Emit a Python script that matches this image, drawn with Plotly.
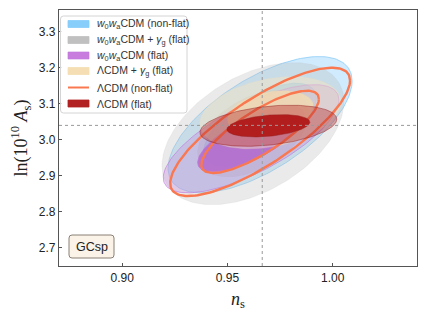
import numpy as np
import plotly.graph_objects as go

# Fisher-like contours: centre, x/y half-extent of the
# 95% (outer) and 68% (inner) contours, and the ns-lnAs correlation
models   = ["w0wa_nonflat", "w0wa_g", "w0wa_flat", "lcdm_g", "lcdm_nonflat", "lcdm_flat"]
labels   = ["<i>w</i><sub>0</sub><i>w</i><sub>a</sub>CDM (non-flat)",
            "<i>w</i><sub>0</sub><i>w</i><sub>a</sub>CDM + <i>γ</i><sub>g</sub> (flat)",
            "<i>w</i><sub>0</sub><i>w</i><sub>a</sub>CDM (flat)",
            "ΛCDM + <i>γ</i><sub>g</sub> (flat)",
            "ΛCDM (non-flat)",
            "ΛCDM (flat)"]
ns_c     = [0.9655, 0.9621, 0.9612, 0.9704, 0.9655, 0.9694]
as_c     = [3.042, 3.017, 3.003, 3.075, 3.022, 3.039]
dx_out   = [0.0437, 0.0432, 0.0417, 0.0335, 0.0427, 0.0325]
dy_out   = [0.189, 0.197, 0.150, 0.100, 0.178, 0.057]
dx_in    = [0.0267, 0.0263, 0.0254, 0.0204, 0.0279, 0.0197]
dy_in    = [0.115, 0.120, 0.092, 0.061, 0.114, 0.031]
rho      = [0.64, 0.45, 0.72, 0.30, 0.80, 0.32]

fid_ns   = 0.9665
fid_as   = 3.040
x_ticks  = [0.90, 0.95, 1.00]
y_ticks  = [2.7, 2.8, 2.9, 3.0, 3.1, 3.2, 3.3]

style = {
    "w0wa_nonflat": dict(out="rgba(135,206,250,0.40)", inn="rgba(135,206,250,0.75)", edge="rgba(120,195,245,0.8)", lw=0.8,
                         key="rgb(135,206,250)"),
    "w0wa_g":       dict(out="rgba(185,185,185,0.30)", inn="rgba(180,180,180,0.35)", edge="rgba(180,180,180,0.3)", lw=0.5,
                         key="rgb(192,192,192)"),
    "w0wa_flat":    dict(out="rgba(195,130,220,0.32)", inn="rgba(180,100,205,0.80)", edge="rgba(190,120,220,0.8)", lw=0.8,
                         key="rgb(200,125,222)"),
    "lcdm_g":       dict(out="rgba(248,228,190,0.45)", inn="rgba(242,218,175,0.80)", edge="rgba(245,222,179,0.4)", lw=0.5,
                         key="rgb(245,222,179)"),
    "lcdm_nonflat": dict(out=None, inn=None, edge="#F97850", lw=2.4, key="#F97850"),
    "lcdm_flat":    dict(out="rgba(178,34,34,0.38)", inn="rgba(178,30,30,1.0)", edge="rgba(150,30,30,0.6)", lw=0.8,
                         key="rgb(178,34,34)"),
}

# plot area in screen pixels, used to place the hand-made legend and label box
AX0, AX1, AY0, AY1 = 61, 419, 10, 266


def px(x):
    return (x - AX0) / (AX1 - AX0)


def py(y):
    return (AY1 - y) / (AY1 - AY0)


def rounded_box(x0, y0, x1, y1, r):
    pts = [f"M {px(x0 + r)},{py(y0)}", f"L {px(x1 - r)},{py(y0)}",
           f"Q {px(x1)},{py(y0)} {px(x1)},{py(y0 + r)}", f"L {px(x1)},{py(y1 - r)}",
           f"Q {px(x1)},{py(y1)} {px(x1 - r)},{py(y1)}", f"L {px(x0 + r)},{py(y1)}",
           f"Q {px(x0)},{py(y1)} {px(x0)},{py(y1 - r)}", f"L {px(x0)},{py(y0 + r)}",
           f"Q {px(x0)},{py(y0)} {px(x0 + r)},{py(y0)} Z"]
    return " ".join(pts)


def contour(cx, cy, dx, dy, r):
    t = np.linspace(0, 2 * np.pi, 181)
    return cx + dx * np.cos(t), cy + dy * (r * np.cos(t) + np.sqrt(1 - r ** 2) * np.sin(t))


fig = go.Figure()
for i, m in enumerate(models):
    st = style[m]
    for level, (dx, dy) in enumerate([(dx_out[i], dy_out[i]), (dx_in[i], dy_in[i])]):
        x, y = contour(ns_c[i], as_c[i], dx, dy, rho[i])
        fill = st["out"] if level == 0 else st["inn"]
        if fill is None:
            fig.add_scatter(x=x, y=y, mode="lines", line=dict(color=st["edge"], width=st["lw"]),
                            name=labels[i], hoverinfo="skip")
        else:
            fig.add_scatter(x=x, y=y, mode="lines", fill="toself", fillcolor=fill,
                            line=dict(color=st["edge"], width=st["lw"]),
                            name=labels[i], hoverinfo="skip")

fig.add_vline(x=fid_ns, line=dict(color="#999", width=1, dash="dot"))
fig.add_hline(y=fid_as, line=dict(color="#999", width=1, dash="dot"))

# legend box drawn by hand so the rows can be as tight as in the original
fig.add_shape(type="path", xref="paper", yref="paper", layer="above",
              path=rounded_box(62.5, 16, 189, 113, 3),
              fillcolor="rgba(255,255,255,0.85)", line=dict(color="#d4d4d4", width=1))
row_y = [24, 40, 55.5, 71, 87.5, 103.5]
for i, m in enumerate(models):
    st = style[m]
    yc = row_y[i]
    if m == "lcdm_nonflat":
        fig.add_shape(type="line", xref="paper", yref="paper", layer="above",
                      x0=px(70), x1=px(91), y0=py(yc), y1=py(yc),
                      line=dict(color=st["key"], width=2))
    else:
        fig.add_shape(type="rect", xref="paper", yref="paper", layer="above",
                      x0=px(70), x1=px(91), y0=py(yc - 3.5), y1=py(yc + 3.5),
                      fillcolor=st["key"], line=dict(color=st["edge"] if m == "w0wa_flat" else st["key"], width=0.8))
    fig.add_annotation(x=px(97), y=py(yc), xref="paper", yref="paper", text=labels[i],
                       showarrow=False, xanchor="left", yanchor="middle",
                       font=dict(family="Liberation Sans", size=10.5, color="#333"))

# GCsp probe label
fig.add_shape(type="path", xref="paper", yref="paper", layer="above",
              path=rounded_box(71, 235, 116, 258, 3),
              fillcolor="#FBF2E8", line=dict(color="#8a8075", width=1))
fig.add_annotation(x=px(93.5), y=py(246.5), xref="paper", yref="paper", text="GCsp",
                   showarrow=False, xanchor="center", yanchor="middle",
                   font=dict(family="Liberation Sans", size=12.5, color="#222"))

axis_common = dict(showline=True, linecolor="#555", linewidth=1.3, mirror=True,
                   showgrid=False, zeroline=False, ticks="inside", ticklen=3,
                   tickcolor="#555", automargin=False,
                   tickfont=dict(family="Liberation Sans", size=12, color="#222"))

fig.update_xaxes(range=[0.87, 1.04], tickvals=x_ticks, tickformat=".2f",
                 title=dict(text="<i>n</i><sub>s</sub>",
                            font=dict(family="Liberation Serif", size=18, color="#222"),
                            standoff=8),
                 **axis_common)
fig.update_yaxes(range=[2.65, 3.36], tickvals=y_ticks, tickformat=".1f",
                 title=dict(text="ln(10<sup>10</sup> <i>A</i><sub>s</sub>)",
                            font=dict(family="Liberation Serif", size=18, color="#222"),
                            standoff=6),
                 **axis_common)

# the page has a small body margin, so the margins are shifted to compensate
fig.update_layout(
    width=430, height=322,
    margin=dict(l=51, r=21, t=2, b=64, autoexpand=False),
    plot_bgcolor="white", paper_bgcolor="white",
    showlegend=False,
)

fig.write_html("out.html")
